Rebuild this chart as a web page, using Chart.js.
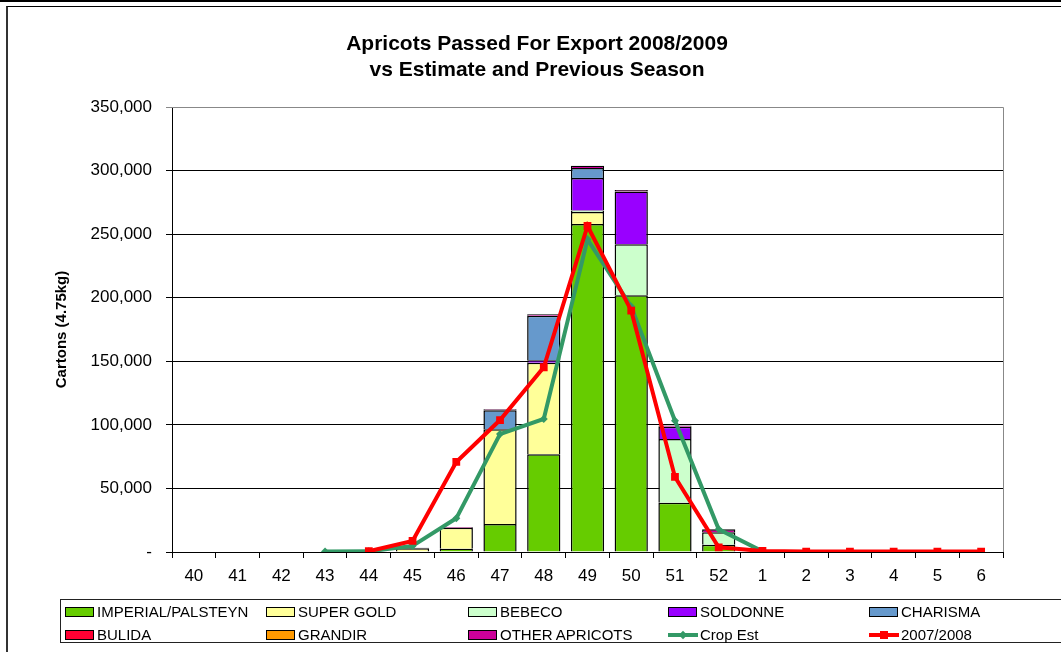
<!DOCTYPE html>
<html>
<head>
<meta charset="utf-8">
<script src="https://cdn.jsdelivr.net/npm/chart.js@4"></script>
<style>
    html, body { margin: 0; padding: 0; background: #fff; overflow: hidden; }
    body { width: 1061px; height: 652px; position: relative; font-family: 'Liberation Sans', Arial, sans-serif; }
    #topBar { position: absolute; left: 0; top: 0; width: 1061px; height: 2px; background: #000; }
    #frame { position: absolute; left: 6px; top: 6px; width: 1100px; height: 700px; border-left: 2px solid #333; border-top: 1px solid #000; }
    #chart { position: absolute; left: 0; top: 0; }
    #title { position: absolute; left: 0; top: 30px; width: 1074px; text-align: center; font-weight: bold; font-size: 21px; line-height: 26px; color: #000; }
    #legend { position: absolute; left: 60px; top: 599px; width: 1100px; height: 44px; border: 1px solid #222; box-sizing: border-box; }
    .item { position: absolute; height: 18px; font-size: 15px; line-height: 18px; color: #000; white-space: nowrap; }
    .swatch { position: absolute; left: 0; top: 4px; width: 27px; height: 8px; border: 1px solid #000; }
    .lineSw { position: absolute; left: 0; top: 7px; width: 30px; height: 4px; }
    .marker { position: absolute; }
    .item span.txt { position: absolute; left: 32px; top: 0; }
</style>
</head>
<body>
<div id="topBar"></div>
<div id="frame"></div>
<canvas id="chart" width="1061" height="652"></canvas>
<div id="title">Apricots Passed For Export 2008/2009<br>vs Estimate and Previous Season</div>
<div id="legend"></div>
<script>
// Week numbers along the x axis
const weeks = ['40', '41', '42', '43', '44', '45', '46', '47', '48', '49', '50', '51', '52', '1', '2', '3', '4', '5', '6'];

// Cartons passed per variety (stacked bars)
const imperial     = [null, null, null, null, null, null, 2600, 22000, 76800, 258000, 202000, 38800, 5800, null, null, null, null, null, null];
const superGold    = [null, null, null, null, null, 3000, 16500, 74500, 72000, 9500, null, null, null, null, null, null, null, null, null];
const bebeco       = [null, null, null, null, null, null, null, null, null, 1000, 40000, 50000, 9800, null, null, null, null, null, null];
const soldonne     = [null, null, null, null, null, null, null, null, 2000, 25700, 41500, 9800, null, null, null, null, null, null, null];
const charisma     = [null, null, null, null, null, null, null, 15000, 35000, 7900, null, null, null, null, null, null, null, null, null];
const bulida       = [null, null, null, null, null, null, null, null, null, null, null, null, null, null, null, null, null, null, null];
const grandir      = [null, null, null, null, null, null, null, null, null, null, null, null, null, null, null, null, null, null, null];
const otherApr     = [null, null, null, null, null, 300, 600, 700, 1200, 1600, 1300, 900, 2300, null, null, null, null, null, null];

// Lines
const cropEst      = [null, null, null, 300, 500, 4800, 26500, 92800, 104600, 245900, 193000, 103300, 17900, 500, null, null, null, null, null];
const prevSeason   = [null, null, null, null, 600, 8700, 70800, 103800, 145300, 256400, 189800, 59000, 3700, 800, 300, 300, 300, 300, 300];

const barSeries = [
    { label: 'IMPERIAL/PALSTEYN', data: imperial,  color: '#66CC00' },
    { label: 'SUPER GOLD',        data: superGold, color: '#FFFF99' },
    { label: 'BEBECO',            data: bebeco,    color: '#CCFFCC' },
    { label: 'SOLDONNE',          data: soldonne,  color: '#9900FF' },
    { label: 'CHARISMA',          data: charisma,  color: '#6699CC' },
    { label: 'BULIDA',            data: bulida,    color: '#FF0033' },
    { label: 'GRANDIR',           data: grandir,   color: '#FF9900' },
    { label: 'OTHER APRICOTS',    data: otherApr,  color: '#CC0099' }
];

const lineSeries = [
    { label: 'Crop Est',  data: cropEst,    color: '#339966', style: 'rectRot', radius: 4,   order: 1 },
    { label: '2007/2008', data: prevSeason, color: '#FF0000', style: 'rect',    radius: 5.5, order: 0 }
];

Chart.defaults.font.family = "'Liberation Sans', Arial, sans-serif";
Chart.defaults.color = '#000';

const datasets = [];
barSeries.forEach(function(s) {
    datasets.push({
        type: 'bar',
        label: s.label,
        data: s.data,
        backgroundColor: s.color,
        borderColor: '#000',
        borderWidth: 1.5,
        stack: 'bars',
        order: 2,
        categoryPercentage: 1,
        barPercentage: 0.76
    });
});
lineSeries.forEach(function(s) {
    datasets.push({
        type: 'line',
        label: s.label,
        data: s.data,
        borderColor: s.color,
        backgroundColor: s.color,
        borderWidth: 4,
        pointStyle: s.style,
        pointRadius: s.radius,
        pointBorderWidth: 0,
        tension: 0,
        spanGaps: false,
        stack: s.label,
        order: s.order
    });
});

// grey border on top and right of the plot area
const plotBorder = {
    id: 'plotBorder',
    beforeDatasetsDraw(chart) {
        const a = chart.chartArea;
        const ctx = chart.ctx;
        ctx.save();
        ctx.strokeStyle = '#888';
        ctx.lineWidth = 1;
        ctx.beginPath();
        ctx.moveTo(a.left, a.top + 0.5);
        ctx.lineTo(a.right + 0.5, a.top + 0.5);
        ctx.lineTo(a.right + 0.5, a.bottom);
        ctx.stroke();
        ctx.restore();
    }
};

const ctx = document.getElementById('chart').getContext('2d');
const chart = new Chart(ctx, {
    data: { labels: weeks, datasets: datasets },
    plugins: [plotBorder],
    options: {
        responsive: false,
        animation: false,
        layout: { padding: { left: 10, right: 58, top: 107, bottom: 70 } },
        plugins: {
            legend: { display: false },
            title: { display: false },
            tooltip: { enabled: false }
        },
        scales: {
            x: {
                stacked: true,
                grid: { drawOnChartArea: false, color: '#000', tickLength: 6, offset: true },
                border: { color: '#000' },
                ticks: { font: { size: 17 }, padding: 8, maxRotation: 0, autoSkip: false },
                afterFit: function(scale) { scale.height = 30; }
            },
            y: {
                stacked: true,
                min: 0,
                max: 350000,
                grid: {
                    color: function(c) { return c.tick && c.tick.value === 350000 ? '#888' : '#000'; },
                    tickLength: 6
                },
                border: { color: '#000' },
                ticks: {
                    stepSize: 50000,
                    font: { size: 17 },
                    padding: 14,
                    callback: function(v) { return v === 0 ? '-' : v.toLocaleString('en-US'); }
                },
                title: {
                    display: true,
                    text: 'Cartons (4.75kg)',
                    font: { size: 15, weight: 'bold' },
                    padding: { top: 43, bottom: 0 }
                },
                afterFit: function(scale) { scale.width = 162; }
            }
        }
    }
});

// HTML legend, 5 columns x 2 rows
const legendEl = document.getElementById('legend');
const colX = [4, 205, 407, 607, 808];
const rowY = [3, 26];
const legendItems = barSeries.map(function(s) { return { label: s.label, color: s.color, kind: 'bar' }; })
    .concat(lineSeries.map(function(s) { return { label: s.label, color: s.color, kind: s.style }; }));

legendItems.forEach(function(it, i) {
    const el = document.createElement('div');
    el.className = 'item';
    el.style.left = colX[i % 5] + 'px';
    el.style.top = rowY[Math.floor(i / 5)] + 'px';
    if (it.kind === 'bar') {
        const sw = document.createElement('div');
        sw.className = 'swatch';
        sw.style.background = it.color;
        el.appendChild(sw);
    } else {
        const ln = document.createElement('div');
        ln.className = 'lineSw';
        ln.style.background = it.color;
        el.appendChild(ln);
        const mk = document.createElement('div');
        mk.className = 'marker';
        mk.style.background = it.color;
        if (it.kind === 'rect') {
            mk.style.left = '11px'; mk.style.top = '5px'; mk.style.width = '8px'; mk.style.height = '8px';
        } else {
            mk.style.left = '12px'; mk.style.top = '6px'; mk.style.width = '6px'; mk.style.height = '6px';
            mk.style.transform = 'rotate(45deg)';
        }
        el.appendChild(mk);
    }
    const tx = document.createElement('span');
    tx.className = 'txt';
    tx.textContent = it.label;
    el.appendChild(tx);
    legendEl.appendChild(el);
});
</script>
</body>
</html>
